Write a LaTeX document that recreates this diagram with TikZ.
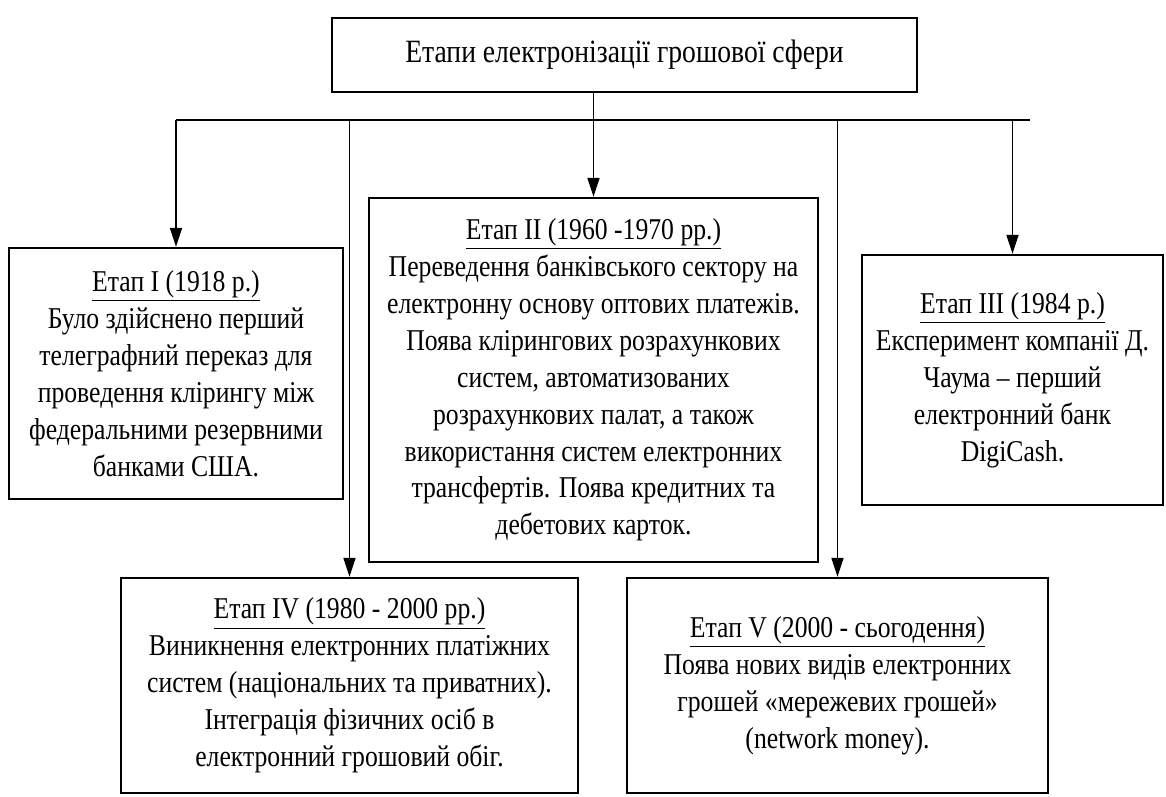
\documentclass[tikz,border=0pt]{standalone}
\usepackage{fontspec}
\setmainfont[FakeStretch=0.85]{Liberation Serif}
\usetikzlibrary{arrows.meta}

\begin{document}
\begin{tikzpicture}[x=1cm,y=1cm,
  stagebox/.style={draw,line width=1.3pt,align=center,inner sep=0pt,
    font=\fontsize{17.2}{21}\selectfont},
  arr/.style={-{Triangle[length=3.8mm,width=2.4mm]},line width=0.9pt}]
\useasboundingbox (0,0) rectangle (23.32,15.94);

\node[stagebox,minimum width=11.7cm,minimum height=1.48cm,
  font=\fontsize{18.5}{21}\selectfont] (top) at (12.49,14.84)
  {Етапи електронізації грошової сфери};

\node[stagebox,minimum width=6.68cm,minimum height=5.02cm] (s1) at (3.52,8.47)
  {\underline{Етап I (1918 р.)}\\Було здійснено перший\\телеграфний переказ для\\
   проведення клірингу між\\федеральними резервними\\банками США.};
\node[stagebox,minimum width=8.98cm,minimum height=7.28cm] (s2) at (11.87,8.34)
  {\underline{Етап II (1960 -1970 рр.)}\\Переведення банківського сектору на\\
   електронну основу оптових платежів.\\Поява клірингових розрахункових\\
   систем, автоматизованих\\розрахункових палат, а також\\
   використання систем електронних\\трансфертів. Поява кредитних та\\
   дебетових карток.};
\node[stagebox,minimum width=6.02cm,minimum height=5cm] (s3) at (20.25,8.34)
  {\underline{Етап III (1984 р.)}\\Експеримент компанії Д.\\Чаума – перший\\
   електронний банк\\DigiCash.};
\node[stagebox,minimum width=9.14cm,minimum height=4.3cm] (s4) at (6.99,2.23)
  {\underline{Етап IV (1980 - 2000 рр.)}\\Виникнення електронних платіжних\\
   систем (національних та приватних).\\Інтеграція фізичних осіб в\\
   електронний грошовий обіг.};
\node[stagebox,minimum width=8.42cm,minimum height=4.3cm] (s5) at (16.75,2.23)
  {\underline{Етап V (2000 - сьогодення)}\\Поява нових видів електронних\\
   грошей «мережевих грошей»\\(network money).};

\coordinate (busL) at (3.52,13.54);
\coordinate (busR) at (20.6,13.54);
\draw[line width=1.5pt] (busL) -- (busR);

\draw[arr] (top.south -| s2.north) -- (s2.north);
\draw[arr] (s1.north |- busL) -- (s1.north);
\draw[arr] (s4.north |- busL) -- (s4.north);
\draw[arr] (s5.north |- busL) -- (s5.north);
\draw[arr] (s3.north |- busL) -- (s3.north);
\end{tikzpicture}
\end{document}
